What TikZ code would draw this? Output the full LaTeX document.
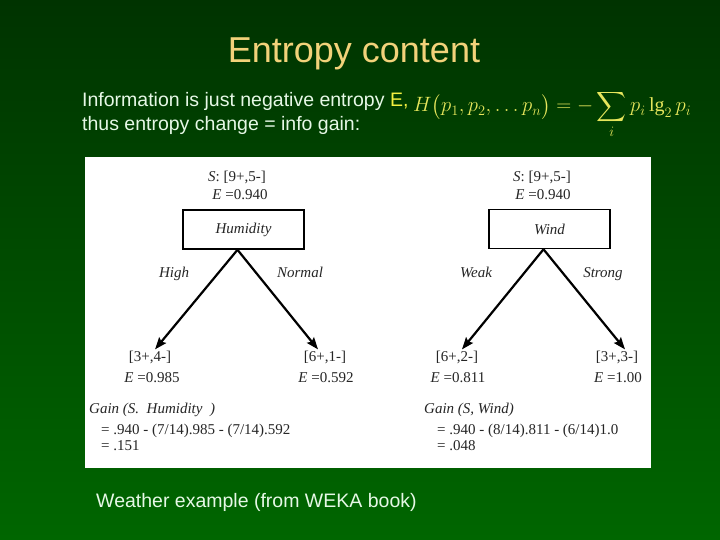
\documentclass[tikz,border=0pt]{standalone}
\usepackage{fontspec}
\setmainfont{Liberation Serif}
\setsansfont{Liberation Sans}
\usepackage{amsmath}
\usetikzlibrary{arrows.meta}

\definecolor{bgtop}{HTML}{003300}
\definecolor{bgbot}{HTML}{006600}
\definecolor{headfg}{HTML}{F2D27A}
\definecolor{slidefg}{HTML}{E6F8E6}
\definecolor{ekey}{HTML}{F4F040}
\definecolor{formfg}{HTML}{E6E65C}

\tikzset{
  slide/.style={font=\sffamily\fontsize{19.5}{23}\selectfont, text=slidefg, inner sep=0pt},
  heading/.style={font=\sffamily\fontsize{36}{40}\selectfont, text=headfg, inner sep=0pt},
  formula/.style={font=\fontsize{20}{24}\selectfont, text=formfg, inner sep=0pt},
  panel/.style={font=\fontsize{15}{18}\selectfont, text=black!85, inner sep=1pt},
  branch/.style={panel, font=\itshape\fontsize{15}{18}\selectfont},
  attrbox/.style={panel, draw=black, line width=1.6pt, minimum width=121pt,
    minimum height=39pt, font=\itshape\fontsize{15}{18}\selectfont},
  split/.style={-{Stealth[length=12pt,width=9pt,inset=2pt]}, line width=2.2pt, black},
}

\begin{document}
\begin{tikzpicture}[x=1pt,y=-1pt]
\useasboundingbox (0,0) rectangle (720,540);
\shade[top color=bgtop, bottom color=bgbot] (0,0) rectangle (720,540);
\fill[white] (85,157) rectangle (651,468);

% slide text
\node[heading, anchor=base] (title) at (354,63) {Entropy content};
\node[slide, anchor=base west] (info) at (82,107) {Information is just negative entropy \textcolor{ekey}{E,}};
\node[slide, anchor=base west] (change) at (82,131) {thus entropy change = info gain:};
\node[formula, anchor=base west] (hform) at (413,112)
  {$\displaystyle H\big(p_1, p_2, \dots p_n\big) = -\sum_i p_i\,\mathrm{lg}_2\,p_i$};
\node[slide, anchor=base west] (note) at (96,507) {Weather example (from WEKA book)};

% Humidity tree
\node[panel, anchor=base] (hroot) at (237,182) {\textit{S}: [9+,5-]};
\node[panel, anchor=base] (hroote) at (240,200) {\textit{E} =0.940};
\node[attrbox] (hum) at (243.5,229.5) {Humidity};
\node[branch, anchor=base] (hhigh) at (174,277) {High};
\node[branch, anchor=base] (hnorm) at (300,277) {Normal};
\node[panel, anchor=base] (hl) at (150,361) {[3+,4-]};
\node[panel, anchor=base] (hle) at (152,382) {\textit{E} =0.985};
\node[panel, anchor=base] (hr) at (325,361) {[6+,1-]};
\node[panel, anchor=base] (hre) at (326,382) {\textit{E} =0.592};
\node[panel, anchor=base west] (hgain) at (88,413) {\textit{Gain (S.\ \ Humidity\ \ )}};
\node[panel, anchor=base west] (hcalc) at (100,434) {= .940 - (7/14).985 - (7/14).592};
\node[panel, anchor=base west] (hres) at (100,450) {= .151};
\draw[split] ([xshift=-6pt]hum.south) -- ([xshift=5pt]hl.north);
\draw[split] ([xshift=-6pt]hum.south) -- ([xshift=-7pt]hr.north);

% Wind tree
\node[panel, anchor=base] (wroot) at (542,182) {\textit{S}: [9+,5-]};
\node[panel, anchor=base] (wroote) at (543,200) {\textit{E} =0.940};
\node[attrbox] (wind) at (549.5,229) {Wind};
\node[branch, anchor=base] (wweak) at (476,277) {Weak};
\node[branch, anchor=base] (wstrong) at (603,277) {Strong};
\node[panel, anchor=base] (wl) at (457,361) {[6+,2-]};
\node[panel, anchor=base] (wle) at (458,382) {\textit{E} =0.811};
\node[panel, anchor=base] (wr) at (617,361) {[3+,3-]};
\node[panel, anchor=base] (wre) at (618,382) {\textit{E} =1.00};
\node[panel, anchor=base west] (wgain) at (423,413) {\textit{Gain (S, Wind)}};
\node[panel, anchor=base west] (wcalc) at (436,434) {= .940 - (8/14).811 - (6/14)1.0};
\node[panel, anchor=base west] (wres) at (436,450) {= .048};
\draw[split] ([xshift=-6pt]wind.south) -- ([xshift=5pt]wl.north);
\draw[split] ([xshift=-6pt]wind.south) -- ([xshift=8pt]wr.north);
\end{tikzpicture}
\end{document}
